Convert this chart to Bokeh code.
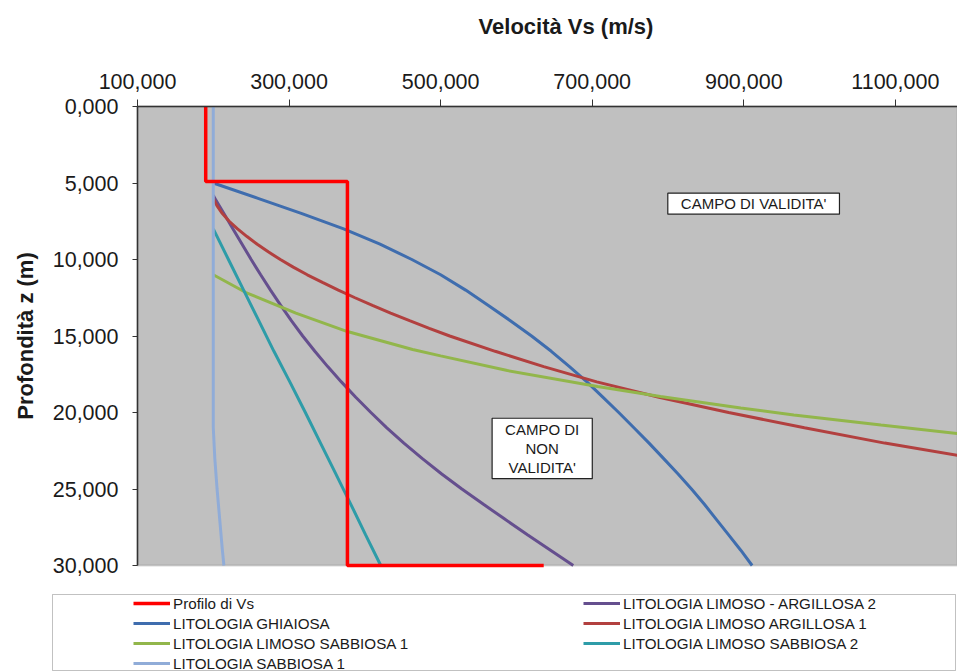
from bokeh.plotting import figure
from bokeh.models import (Range1d, FixedTicker, CustomJSTickFormatter, Label,
                          Legend, LegendItem, BoxAnnotation)
from bokeh.embed import file_html
from bokeh.resources import INLINE

FONT = "Liberation Sans"

# Axis ticks
x_ticks = [100, 300, 500, 700, 900, 1100]
y_ticks = [0, 5, 10, 15, 20, 25, 30]

# Measured shear-wave velocity profile (step)
profilo_z = [0, 4.9, 4.9, 30, 30]
profilo_vs = [190, 190, 377, 377, 636]

# Reference curves for each lithology: depth z (m) and Vs (m/s)
ghiaiosa_z = [5, 6, 7, 8, 9, 10, 11, 12, 13, 14, 15, 16, 17, 18, 19, 20,
              21, 22, 23, 24, 25, 26, 27, 28, 29, 30]
ghiaiosa_vs = [200, 259, 317, 372, 420, 462, 500, 533, 563, 592, 620, 646,
               670, 693, 714, 735, 755, 775, 794, 813, 831, 848, 864, 880,
               896, 911]

lim_arg1_z = [6, 6.5, 7, 7.5, 8, 8.5, 9, 9.5, 10, 10.5, 11, 11.5, 12, 12.5,
              13, 13.5, 14, 14.5, 15, 16, 17, 18, 19, 20, 21, 22, 23]
lim_arg1_vs = [200, 205, 212, 221, 232, 244.5, 258, 272.5, 288.5, 305.5, 324,
               344, 365, 387, 410, 434, 459, 485, 512, 572, 636, 706, 788,
               880, 980, 1086, 1206]

lim_arg2_z = [5.8, 6, 7, 8, 9, 10, 11, 12, 13, 14, 15, 16, 17, 18, 19, 20,
              21, 22, 23, 24, 25, 26, 27, 28, 29, 30]
lim_arg2_vs = [200, 202, 214, 226, 238, 250, 262.5, 275.5, 289, 303, 318, 334,
               351, 369, 388, 408, 429, 451.5, 475.5, 501, 528, 556.5, 585.5,
               615, 645, 675]

lim_sab1_z = [11, 12.16, 13.5, 14.71, 15.88, 16.3, 17.26, 18.3, 18.95, 19.71,
              20.16, 20.82, 21.37, 21.6]
lim_sab1_vs = [200, 243, 309, 377, 463, 500, 588, 707, 790, 896, 966, 1081,
               1182, 1225]

lim_sab2_z = [8, 10, 12, 14, 16, 18, 20, 22, 24, 26, 28, 30]
lim_sab2_vs = [200, 220, 240, 260, 280, 301, 321.5, 341.5, 361.5, 381.5, 401,
               421]

sabbiosa1_z = [0, 21, 23, 25, 27, 29, 30]
sabbiosa1_vs = [200, 200, 202, 205, 208.5, 212, 214]

series = [
    ("LITOLOGIA LIMOSO - ARGILLOSA 2", lim_arg2_vs, lim_arg2_z, "#654F8E"),
    ("LITOLOGIA GHIAIOSA", ghiaiosa_vs, ghiaiosa_z, "#3F6DAE"),
    ("LITOLOGIA LIMOSO ARGILLOSA 1", lim_arg1_vs, lim_arg1_z, "#B2403F"),
    ("LITOLOGIA LIMOSO SABBIOSA 1", lim_sab1_vs, lim_sab1_z, "#92B64B"),
    ("LITOLOGIA LIMOSO SABBIOSA 2", lim_sab2_vs, lim_sab2_z, "#2E9CA8"),
    ("LITOLOGIA SABBIOSA 1", sabbiosa1_vs, sabbiosa1_z, "#90ACD8"),
]
profilo_name = "Profilo di Vs"
profilo_color = "#FF0000"

# Layout in pixels: the drawing frame covers the whole canvas; the chart
# area (Vs 100..1182, z 0..30) sits inside it, axes are pinned to its edges.
W, H = 957, 671
AREA_LEFT, AREA_TOP, AREA_BOTTOM = 137, 106, 565
VS_MIN, VS_MAX, Z_MAX = 100, 1182, 30

px_per_vs = (W - AREA_LEFT) / (VS_MAX - VS_MIN)
px_per_z = (AREA_BOTTOM - AREA_TOP) / Z_MAX
x_start = VS_MIN - AREA_LEFT / px_per_vs
z_top = -AREA_TOP / px_per_z
z_end = (H - AREA_TOP) / px_per_z

p = figure(width=W, height=H,
           x_range=Range1d(x_start, VS_MAX), y_range=Range1d(z_end, z_top),
           x_axis_location="above",
           output_backend="svg", toolbar_location=None,
           min_border_left=0, min_border_right=0,
           min_border_top=0, min_border_bottom=0,
           background_fill_color="white", border_fill_color="white",
           outline_line_color=None)
p.grid.visible = False

# gray chart area
p.add_layout(BoxAnnotation(left=VS_MIN, top=0, bottom=Z_MAX,
                           fill_color="#C0C0C0", fill_alpha=1,
                           line_color="#808080", line_width=2,
                           level="underlay"))

renderers = {}
for name, vs, z, col in series:
    renderers[name] = p.line(vs, z, line_color=col, line_width=3)
renderers[profilo_name] = p.line(profilo_vs, profilo_z,
                                 line_color=profilo_color, line_width=3.5)

fmt = CustomJSTickFormatter(code="return tick.toFixed(3).replace('.', ',');")

xa = p.xaxis[0]
ya = p.yaxis[0]
xa.fixed_location = 0
ya.fixed_location = VS_MIN
xa.bounds = (VS_MIN, VS_MAX)
ya.bounds = (0, Z_MAX)

for ax, ticks, tick_out, standoff in ((xa, x_ticks, 7, 11),
                                      (ya, y_ticks, 5, 14)):
    ax.ticker = FixedTicker(ticks=ticks)
    ax.formatter = fmt
    ax.axis_line_color = "#333333"
    ax.axis_line_width = 1.5
    ax.major_tick_line_color = "#333333"
    ax.major_tick_out = tick_out
    ax.major_tick_in = 0
    ax.minor_tick_out = 0
    ax.minor_tick_in = 0
    ax.major_label_standoff = standoff
    ax.major_label_text_font = FONT
    ax.major_label_text_font_size = "21.5px"
    ax.major_label_text_color = "#1a1a1a"

ya.axis_label = "Profondità z (m)"
ya.axis_label_text_font = FONT
ya.axis_label_text_font_size = "22px"
ya.axis_label_text_font_style = "bold"
ya.axis_label_text_color = "#1a1a1a"
ya.axis_label_standoff = 12

# x axis title, placed in screen pixels (from the bottom-left corner)
p.add_layout(Label(x=565.5, y=H - 26, x_units="screen", y_units="screen",
                   text="Velocità Vs (m/s)", text_font=FONT,
                   text_font_size="22px", text_font_style="bold",
                   text_color="#1a1a1a", text_align="center",
                   text_baseline="middle"))

box_style = dict(text_font=FONT, text_font_size="15px", text_color="#1a1a1a",
                 text_align="center", text_baseline="middle",
                 text_line_height=1.1,
                 background_fill_color="white", border_line_color="#222222",
                 border_line_width=1.2)
p.add_layout(Label(x=913, y=6.35, text="CAMPO DI VALIDITA'",
                   padding=(13, 13, 2, 2), **box_style))
p.add_layout(Label(x=634, y=22.35, text="CAMPO DI\nNON\nVALIDITA'",
                   padding=(13, 13, 3, 3), **box_style))

# Legend frame (screen pixels from the bottom-left of the canvas)
p.add_layout(BoxAnnotation(left=52, right=955, top=H - 594, bottom=H - 670,
                           left_units="screen", right_units="screen",
                           top_units="screen", bottom_units="screen",
                           fill_color="white", fill_alpha=1,
                           line_color="#333333", line_width=1))

col1 = [profilo_name, "LITOLOGIA GHIAIOSA", "LITOLOGIA LIMOSO SABBIOSA 1",
        "LITOLOGIA SABBIOSA 1"]
col2 = ["LITOLOGIA LIMOSO - ARGILLOSA 2", "LITOLOGIA LIMOSO ARGILLOSA 1",
        "LITOLOGIA LIMOSO SABBIOSA 2"]


def make_legend(names, loc):
    leg = Legend(items=[LegendItem(label=n, renderers=[renderers[n]])
                        for n in names],
                 location=loc, orientation="vertical",
                 padding=0, margin=0, spacing=0,
                 glyph_width=37, glyph_height=20, label_height=20,
                 label_standoff=3,
                 label_text_font=FONT, label_text_font_size="15.2px",
                 label_text_color="#1a1a1a",
                 border_line_color=None, background_fill_alpha=0,
                 click_policy="none")
    p.add_layout(leg, "center")


make_legend(col1, (133, H - 673))
make_legend(col2, (583, H - 653))

open("out.html", "w").write(file_html(p, INLINE))
